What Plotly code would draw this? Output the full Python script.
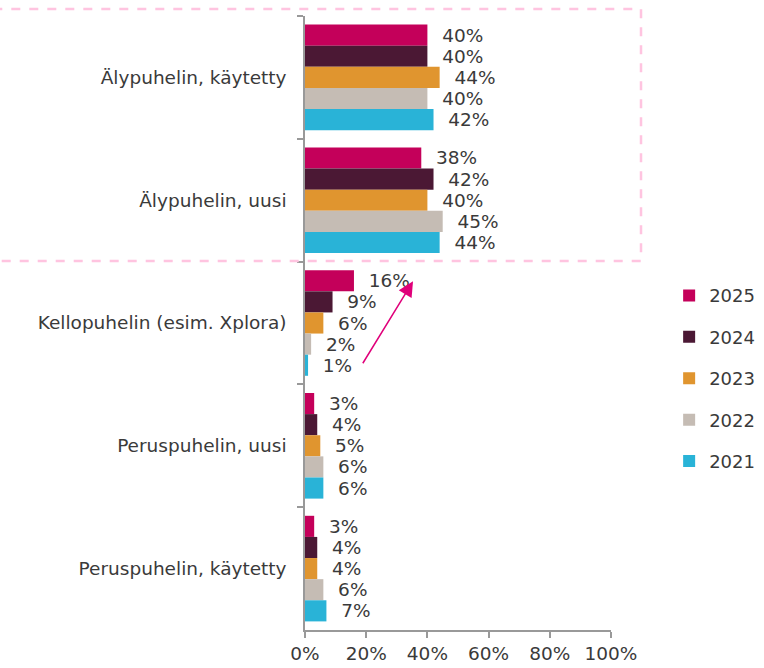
import plotly.graph_objects as go

categories = ["Älypuhelin, käytetty", "Älypuhelin, uusi", "Kellopuhelin (esim. Xplora)",
              "Peruspuhelin, uusi", "Peruspuhelin, käytetty"]
years = ["2025", "2024", "2023", "2022", "2021"]
values = {
    "2025": [40, 38, 16, 3, 3],
    "2024": [40, 42, 9, 4, 4],
    "2023": [44, 40, 6, 5, 4],
    "2022": [40, 45, 2, 6, 6],
    "2021": [42, 44, 1, 6, 7],
}
colors = {
    "2025": "#C4005A",
    "2024": "#4B1834",
    "2023": "#E0952F",
    "2022": "#C5BCB4",
    "2021": "#29B3D7",
}
x_ticks = [0, 20, 40, 60, 80, 100]
x_tick_labels = ["0%", "20%", "40%", "60%", "80%", "100%"]

FONT = "'DejaVu Sans', sans-serif"
TXT = "#3a3a3a"

fig = go.Figure()
for i, yr in enumerate(years):
    fig.add_trace(go.Bar(
        y=categories, x=values[yr], orientation="h", name=yr,
        marker=dict(color=colors[yr], line=dict(width=0)),
        text=[f"\u00a0\u00a0{v}%" for v in values[yr]],
        textposition="outside", constraintext="none", cliponaxis=False,
        textfont=dict(size=18.5, color=TXT, family=FONT),
        legendgroup=yr,
    ))

fig.update_layout(
    width=764, height=668,
    margin=dict(l=305, r=153, t=16, b=38, autoexpand=False),
    barmode="group", bargap=0.14, bargroupgap=0,
    plot_bgcolor="white", paper_bgcolor="white",
    font=dict(family=FONT, size=17, color=TXT),
    legend=dict(x=1.19, y=0.41, xanchor="left", yanchor="middle",
                font=dict(size=18, color=TXT, family=FONT),
                tracegroupgap=15, itemwidth=30, traceorder="grouped"),
    xaxis=dict(range=[0, 100], tickvals=x_ticks, ticktext=x_tick_labels,
               showgrid=False, zeroline=False, showline=True, linecolor="#999999",
               linewidth=1.5, ticks="outside", ticklen=6, tickcolor="#999999",
               tickwidth=1.5, tickfont=dict(size=18.5, color=TXT), automargin=False),
    yaxis=dict(autorange="reversed", showgrid=False, showline=True,
               linecolor="#999999", linewidth=1.5, ticks="outside", ticklen=6,
               tickcolor="#999999", tickwidth=1.5, tickson="boundaries",
               tickfont=dict(size=18.5, color=TXT), ticklabelstandoff=13,
               automargin=False),
)

fig.add_shape(type="rect", xref="paper", yref="paper",
              x0=-1.05, x1=(641 - 305) / 306, y0=(630 - 261) / 614, y1=(630 - 9) / 614,
              line=dict(color="#FFC4E0", width=2.5, dash="dash"), layer="above")

fig.add_annotation(x=35.3, y=1.66, ax=18.6, ay=2.34, xref="x", yref="y",
                   axref="x", ayref="y", showarrow=True, arrowhead=2,
                   arrowsize=2, arrowwidth=1.5, arrowcolor="#E0007A", text="")

fig.write_html("out.html", config={"displayModeBar": False},
               post_script="document.body.style.margin='0px';")
